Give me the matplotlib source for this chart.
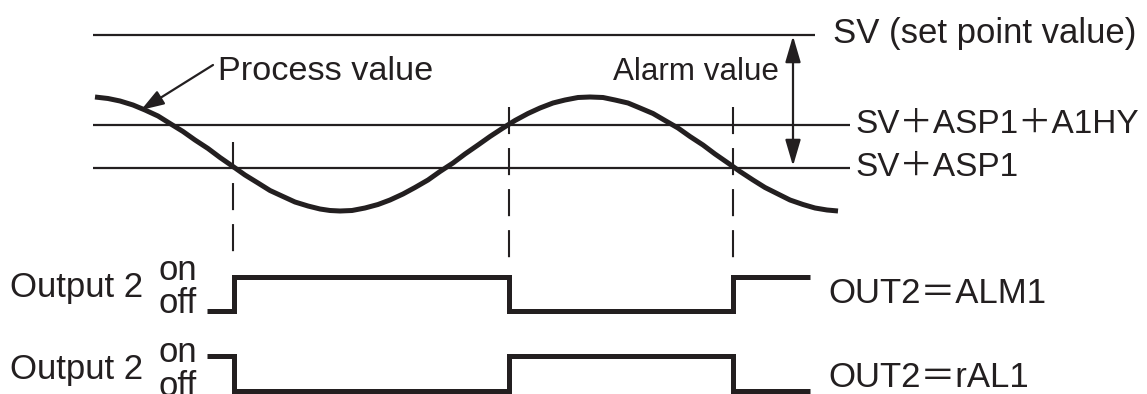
import matplotlib.pyplot as plt
from matplotlib.patches import FancyArrowPatch

# diagram levels (drawn in a pixel-like coordinate frame, y grows downward)
sv_level = 35
hyst_level = 125      # SV+ASP1+A1HY
alarm_level = 168     # SV+ASP1

# process value curve
pv_t = [95, 108, 120, 133, 145, 158, 170, 183, 195, 208, 220, 233, 245, 258,
        270, 283, 295, 308, 320, 330, 340, 352, 365, 378, 390, 403, 415, 428,
        440, 453, 465, 478, 490, 503, 515, 528, 540, 553, 565, 578, 590, 603,
        615, 628, 640, 653, 665, 678, 690, 703, 715, 728, 740, 753, 765, 778,
        790, 803, 815, 827, 838]
pv_y = [97, 98.5, 101, 105, 110, 116, 123.5, 131.5, 140, 148.5, 157.5, 166.5,
        175, 183, 190.5, 196.5, 202, 206, 209, 210.5, 211, 210.5, 208, 204.5,
        200, 194, 187.5, 180, 171.5, 163, 154, 145, 136.5, 128, 120.5, 113.5,
        108, 103, 100, 97.5, 97, 97.5, 100, 103, 108, 113.5, 120.5, 128,
        136.5, 145, 154, 163, 171.5, 180, 187.5, 194, 200, 204.5, 208, 210,
        211]

# switching instants (crossings) and output states
switch_t = [207, 234, 509, 733, 810]
alm1_state = [0, 1, 0, 1, 1]
ral1_state = [1, 0, 1, 0, 0]
alm1_rows = {1: 277, 0: 311}
ral1_rows = {1: 356, 0: 391}

ink = '#231f20'
fam = ['Liberation Sans', 'Noto Sans CJK JP']

fig = plt.figure(figsize=(11.47, 3.94), dpi=100)
ax = fig.add_axes([0, 0, 1, 1])
ax.set_xlim(0, 1147)
ax.set_ylim(394, 0)
ax.axis('off')

# reference levels
ax.plot([93, 815], [sv_level, sv_level], color=ink, lw=1.6, solid_capstyle='butt')
ax.plot([93, 850], [hyst_level, hyst_level], color=ink, lw=1.6, solid_capstyle='butt')
ax.plot([93, 850], [alarm_level, alarm_level], color=ink, lw=1.6, solid_capstyle='butt')

# process value
ax.plot(pv_t, pv_y, color=ink, lw=3.6, solid_capstyle='butt', solid_joinstyle='round')

# dashed markers at switching points
for x, y0, y1 in [(233, 142, 252), (509, 107, 258), (733, 107, 258)]:
    ax.plot([x, x], [y0, y1], color=ink, lw=1.5, linestyle=(0, (13, 6.7)))

# output traces
ax.plot(switch_t, [alm1_rows[s] for s in alm1_state], color=ink, lw=3.6,
        drawstyle='steps-post', solid_joinstyle='miter', solid_capstyle='butt')
ax.plot(switch_t, [ral1_rows[s] for s in ral1_state], color=ink, lw=3.6,
        drawstyle='steps-post', solid_joinstyle='miter', solid_capstyle='butt')

# arrows
ax.add_patch(FancyArrowPatch((213, 65), (141, 110),
                             arrowstyle='-|>,head_length=14,head_width=4.7',
                             mutation_scale=1, color=ink, lw=1.6,
                             shrinkA=0, shrinkB=0))
ax.add_patch(FancyArrowPatch((793, alarm_level - 2), (793, sv_level + 1),
                             arrowstyle='<|-|>,head_length=16,head_width=4.7',
                             mutation_scale=1, color=ink, lw=1.6,
                             shrinkA=0, shrinkB=0))

# labels
txt = dict(color=ink, family=fam, ha='left', va='baseline')
ax.text(833, 43, 'SV (set point value)', fontsize=25, **txt)
ax.text(855, 133, 'SV＋ASP1＋A1HY', fontsize=24, **txt)
ax.text(855, 176, 'SV＋ASP1', fontsize=24, **txt)
ax.text(218, 80, 'Process value', fontsize=24.7, **txt)
ax.text(613, 80, 'Alarm value', fontsize=22.6, **txt)
ax.text(10, 297, 'Output 2', fontsize=25, **txt)
ax.text(10, 379, 'Output 2', fontsize=25, **txt)
ax.text(158, 280, 'on', fontsize=25, **txt)
ax.text(158, 313, 'off', fontsize=25, **txt)
ax.text(158, 362, 'on', fontsize=25, **txt)
ax.text(158, 396, 'off', fontsize=25, **txt)
ax.text(828, 303, 'OUT2＝ALM1', fontsize=25, **txt)
ax.text(828, 387, 'OUT2＝rAL1', fontsize=25, **txt)

fig.savefig('out.png', dpi=100)
